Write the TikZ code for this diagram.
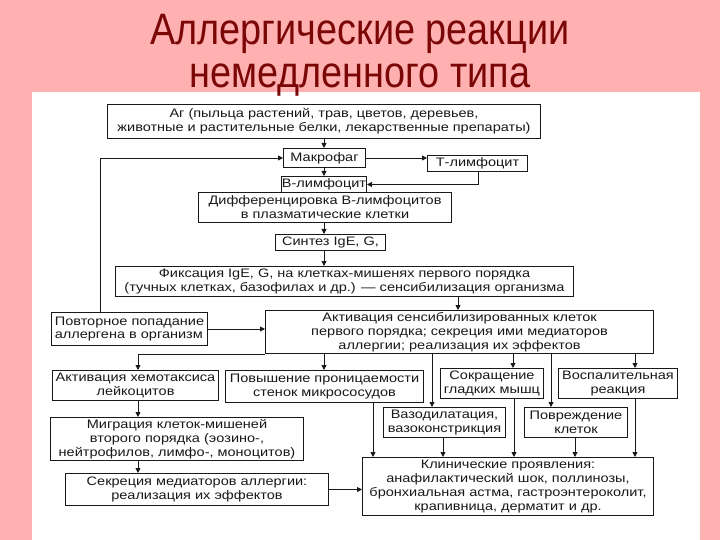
\documentclass[tikz,border=0pt]{standalone}
\usepackage{fontspec}
\setmainfont{Liberation Sans}
\newfontfamily\titlefont[FakeStretch=0.86]{Liberation Sans}
\newfontfamily\boxfont[FakeStretch=1.18]{Liberation Sans}
\usetikzlibrary{arrows.meta}
\definecolor{bgpink}{RGB}{255,176,176}
\definecolor{titlered}{RGB}{122,6,6}
\definecolor{inkc}{RGB}{25,25,25}
\tikzset{
  box/.style={draw=inkc, line width=1pt, inner sep=0pt, align=center, anchor=north west,
    font=\boxfont\fontsize{12.3}{13.8}\selectfont, text=inkc, fill=white},
  arr/.style={draw=inkc, line width=0.9pt, -{Triangle[length=5pt,width=5pt]}},
  ttl/.style={font=\titlefont\fontsize{44}{44}\selectfont, text=titlered, anchor=base}
}
\newcommand\bx[6]{\node[box, minimum width=#4pt, minimum height=#5pt] (#1) at (#2,#3) {#6};}
\begin{document}
\begin{tikzpicture}[x=1pt,y=-1pt]
\fill[bgpink] (0,0) rectangle (720,540);
\useasboundingbox (0,0) rectangle (720,540);
\fill[white] (32,92) rectangle (700,540);
\node[ttl] (t1) at (360,45) {Аллергические реакции};
\node[ttl] (t2) at (360,88) {немедленного типа};

\bx{ag}{107}{104}{433}{34}{Аг (пыльца растений, трав, цветов, деревьев,\\животные и растительные белки, лекарственные препараты)}
\bx{mak}{283}{148}{82}{19}{Макрофаг}
\bx{tl}{427}{155}{100}{16}{Т-лимфоцит}
\bx{bl}{281}{176}{85}{16}{В-лимфоцит}
\bx{dif}{198}{192}{253}{30}{Дифференцировка В-лимфоцитов\\в плазматические клетки}
\bx{syn}{275}{234}{110}{16}{Синтез IgE, G,}
\bx{fix}{115}{266}{458}{30}{Фиксация IgE, G, на клетках-мишенях первого порядка\\(тучных клетках, базофилах и др.) — сенсибилизация организма}
\node[box, minimum width=156pt, minimum height=33pt, align=left] (pov) at (51,312) {Повторное попадание\\аллергена в организм};
\bx{act}{265}{310}{388}{43}{Активация сенсибилизированных клеток\\первого порядка; секреция ими медиаторов\\аллергии; реализация их эффектов}
\bx{che}{52}{370}{166}{30}{Активация хемотаксиса\\лейкоцитов}
\bx{prn}{225}{370}{198}{32}{Повышение проницаемости\\стенок микрососудов}
\bx{sok}{440}{368}{103}{30}{Сокращение\\гладких мышц}
\bx{vos}{558}{368}{119}{30}{Воспалительная\\реакция}
\bx{vaz}{383}{407}{122}{30}{Вазодилатация,\\вазоконстрикция}
\bx{pvr}{524}{407}{103}{30}{Повреждение\\клеток}
\bx{mig}{50}{417}{253}{43}{Миграция клеток-мишеней\\второго порядка (эозино-,\\нейтрофилов, лимфо-, моноцитов)}
\bx{sek}{65}{473}{263}{32}{Секреция медиаторов аллергии:\\реализация их эффектов}
\bx{kli}{362}{457}{291}{58}{Клинические проявления:\\анафилактический шок, поллинозы,\\бронхиальная астма, гастроэнтероколит,\\крапивница, дерматит и др.}

\coordinate (cx) at (324,0);
\coordinate (fx) at (458,0);
\coordinate (px) at (100,0);
\coordinate (tx) at (478,0);
\coordinate (chx) at (138,0);
\coordinate (a1) at (324,0);
\coordinate (a2) at (432,0);
\coordinate (a3) at (513,0);
\coordinate (a4) at (551,0);
\coordinate (a5) at (635,0);
\coordinate (b1) at (373,0);
\coordinate (b2) at (443,0);
\coordinate (b3) at (514,0);
\coordinate (b4) at (575,0);
\coordinate (b5) at (635,0);

\draw[arr] (ag.south -| cx) -- (mak.north -| cx);
\draw[arr] (mak.south -| cx) -- (bl.north -| cx);
\draw[arr] (dif.south -| cx) -- (syn.north -| cx);
\draw[arr] (syn.south -| cx) -- (fix.north -| cx);
\draw[arr] (fix.south -| fx) -- (act.north -| fx);
\draw[arr] (pov.north -| px) |- (mak.west);
\draw[arr] (mak.east) -- (mak.east -| tl.west);
\draw[arr] (tl.south -| tx) |- (bl.east);
\draw[arr] (pov.east) -- (pov.east -| act.west);
\draw[arr] (act.south west) -| (che.north -| chx);
\draw[arr] (act.south -| a1) -- (prn.north -| a1);
\draw[arr] (act.south -| a2) -- (vaz.north -| a2);
\draw[arr] (act.south -| a3) -- (sok.north -| a3);
\draw[arr] (act.south -| a4) -- (pvr.north -| a4);
\draw[arr] (act.south -| a5) -- (vos.north -| a5);
\draw[arr] (prn.south -| b1) -- (kli.north -| b1);
\draw[arr] (vaz.south -| b2) -- (kli.north -| b2);
\draw[arr] (sok.south -| b3) -- (kli.north -| b3);
\draw[arr] (pvr.south -| b4) -- (kli.north -| b4);
\draw[arr] (vos.south -| b5) -- (kli.north -| b5);
\draw[arr] (che.south -| chx) -- (mig.north -| chx);
\draw[arr] (mig.south -| chx) -- (sek.north -| chx);
\draw[arr] (sek.east) -- (sek.east -| kli.west);
\end{tikzpicture}
\end{document}
